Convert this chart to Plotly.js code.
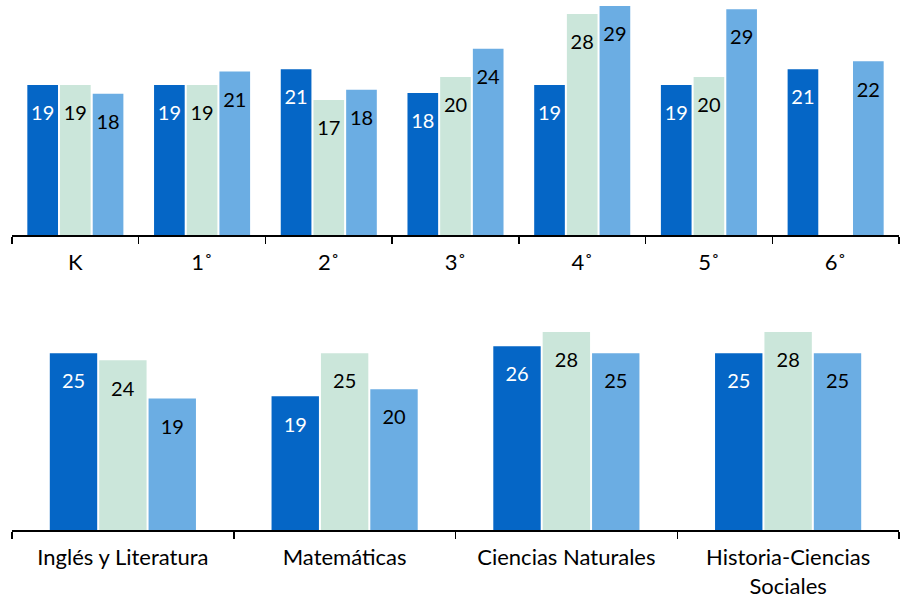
<!DOCTYPE html>
<html>
<head>
<meta charset="utf-8">
<script src="https://cdn.plot.ly/plotly-3.0.1.min.js"></script>
<style>html,body{margin:0;padding:0;background:#fff;}#chart{width:900px;height:603px;}</style>
</head>
<body>
<div id="chart"></div>
<script>
// Top chart: grades
const grades = ['K', '1˚', '2˚', '3˚', '4˚', '5˚', '6˚'];
const gradeSeries1 = [19, 19, 21, 18, 19, 19, 21];
const gradeSeries2 = [19, 19, 17.1, 20, 28, 20, null];
const gradeSeries3 = [17.9, 20.7, 18.4, 23.6, 29, 28.6, 22];

// Bottom chart: subjects
const subjects = ['Inglés y Literatura', 'Matemáticas', 'Ciencias Naturales', 'Historia-Ciencias<br>Sociales'];
const subjSeries1 = [25, 18.9, 26, 25];
const subjSeries2 = [24, 25, 28, 28];
const subjSeries3 = [18.6, 19.9, 25, 25];

const colors = ['#0566C6', '#CBE6DA', '#6BADE3'];
const textColors = ['#ffffff', '#000000', '#000000'];
const FONT = 'Lato, "Open Sans", sans-serif';
const labelTpl = "&nbsp;<br><span style='font-size:20px'>%{y:.0f}</span>";

function barTrace(x, y, i, xa, ya, width, offset) {
  return {
    type: 'bar', x: x, y: y, xaxis: xa, yaxis: ya,
    width: width, offset: offset,
    marker: {color: colors[i], line: {width: 0}},
    texttemplate: labelTpl,
    textposition: 'inside',
    insidetextanchor: 'end',
    textangle: 0,
    constraintext: 'none',
    textfont: {family: FONT, size: 14, color: textColors[i]},
    hoverinfo: 'none',
    showlegend: false,
    cliponaxis: false
  };
}

const wTop = 0.242, gTop = 0.016;
const wBot = 0.2137, gBot = 0.009;
const topOffsets = [-(1.5*wTop + gTop), -(0.5*wTop), 0.5*wTop + gTop];
const botOffsets = [-(1.5*wBot + gBot), -(0.5*wBot), 0.5*wBot + gBot];

const gradeData = [gradeSeries1, gradeSeries2, gradeSeries3];
const subjData = [subjSeries1, subjSeries2, subjSeries3];
const traces = [];
gradeData.forEach((s, i) => traces.push(barTrace(grades, s, i, 'x', 'y', wTop, topOffsets[i])));
subjData.forEach((s, i) => traces.push(barTrace(subjects, s, i, 'x2', 'y2', wBot, botOffsets[i])));

const xaxisCommon = {
  type: 'category',
  showline: true, linecolor: '#000', linewidth: 2,
  ticks: 'outside', tickson: 'boundaries', ticklen: 7, tickwidth: 1.5, tickcolor: '#000',
  showgrid: false, zeroline: false, fixedrange: true,
  tickfont: {family: FONT, size: 22, color: '#000'},
  ticklabelstandoff: 7
};

const layout = {
  width: 900, height: 603,
  margin: {l: 12, r: 1, t: 0, b: 0},
  paper_bgcolor: '#fff', plot_bgcolor: '#fff',
  barmode: 'overlay',
  font: {family: FONT},
  xaxis: Object.assign({}, xaxisCommon, {domain: [0, 1], anchor: 'y', range: [-0.5, 6.5]}),
  yaxis: {domain: [1 - 235/603, 1], range: [0, 29.77], visible: false, fixedrange: true},
  xaxis2: Object.assign({}, xaxisCommon, {domain: [0, 1], anchor: 'y2', range: [-0.5, 3.5]}),
  yaxis2: {domain: [1 - 530/603, 1 - 320/603], range: [0, 29.7], visible: false, fixedrange: true}
};

Plotly.newPlot('chart', traces, layout, {displayModeBar: false, staticPlot: true});
</script>
</body>
</html>
